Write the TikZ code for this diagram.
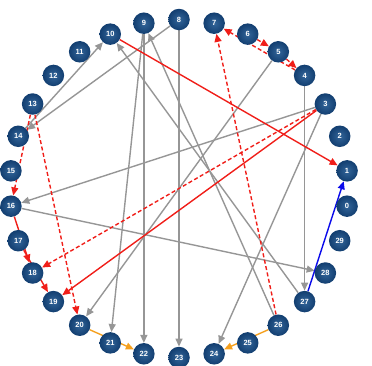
\documentclass[tikz,border=0pt]{standalone}
\usepackage{fontspec}
\setmainfont{Liberation Sans}
\usetikzlibrary{arrows.meta}
\pgfdeclarelayer{edges}
\pgfsetlayers{edges,main}
\definecolor{nodeblue}{RGB}{28,84,142}
\definecolor{nodeblueedge}{RGB}{18,62,112}
\definecolor{linkgray}{RGB}{150,150,150}
\definecolor{linkred}{RGB}{240,30,25}
\definecolor{linkorange}{RGB}{245,160,30}
\definecolor{linkblue}{RGB}{10,10,235}
\tikzset{
  vertex/.style={circle, minimum size=21.5pt, inner sep=0pt,
    inner color=nodeblue!90!white, outer color=nodeblueedge,
    text=white, font=\fontsize{7.5}{8}\selectfont\bfseries},
  tip/.style={-{Triangle[length=8pt,width=7pt]}},
  grayarc/.style={tip, draw=linkgray, line width=1.4pt},
  redarc/.style={tip, draw=linkred, line width=1.4pt},
  reddash/.style={redarc, dash pattern=on 4pt off 2.5pt},
  orangearc/.style={tip, draw=linkorange, line width=1.4pt},
  bluearc/.style={tip, draw=linkblue, line width=1.4pt},
}
\begin{document}
\begin{tikzpicture}[x=1pt,y=1pt]
\useasboundingbox (0,0) rectangle (372,-365);
% thirty vertices on a ring, vertex 8 at the top
\foreach \k in {0,...,29} {
  \pgfmathsetmacro{\ang}{12*\k-6}
  \node[vertex] (n\k) at ({179+169*cos(\ang)},{-188.5+169*sin(\ang)}) {\k};
}
\begin{pgfonlayer}{edges}
% grey links
\draw[grayarc] (n8) -- (n14);
\draw[grayarc] (n14) -- (n10);
\draw[grayarc] (n9) -- (n21);
\draw[grayarc] (n9) -- (n22);
\draw[grayarc] (n8) -- (n23);
\draw[grayarc] (n26) -- (n9);
\draw[grayarc] (n27) -- (n10);
\draw[grayarc] (n3) -- (n16);
\draw[grayarc] (n16) -- (n28);
\draw[grayarc] (n4) -- (n27);
\draw[grayarc] (n5) -- (n20);
\draw[grayarc] (n3) -- (n24);
% red links
\draw[redarc] (n10) -- (n1);
\draw[redarc] (n3) -- (n19);
\draw[redarc] (n16) -- (n18);
\draw[redarc] (n17) -- (n19);
% red dashed links
\draw[reddash] (n13) -- (n16);
\draw[reddash] (n13) -- (n20);
\draw[reddash] (n3) -- (n18);
\draw[reddash] (n26) -- (n7);
\draw[reddash] (n4) -- (n7);
\draw[reddash] (n6) -- (n5);
\draw[reddash] (n5) -- (n4);
% orange links
\draw[orangearc] (n20) -- (n22);
\draw[orangearc] (n26) -- (n24);
% blue link
\draw[bluearc] (n27) -- (n1);
\end{pgfonlayer}
\end{tikzpicture}
\end{document}
